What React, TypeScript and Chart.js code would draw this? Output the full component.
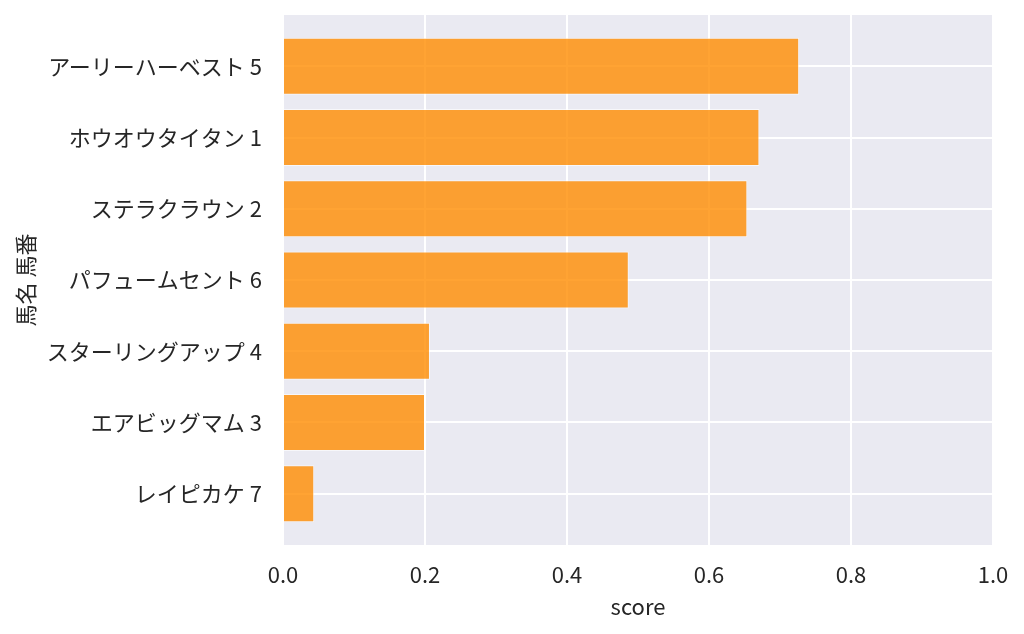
import { useEffect, useRef } from 'react';
import { Chart, registerables } from 'chart.js';

Chart.register(...registerables);

const horses = [
  'アーリーハーベスト 5',
  'ホウオウタイタン 1',
  'ステラクラウン 2',
  'パフュームセント 6',
  'スターリングアップ 4',
  'エアビッグマム 3',
  'レイピカケ 7',
];
const scores = [0.727, 0.671, 0.654, 0.487, 0.207, 0.2, 0.044];
const scoreTicks = [0, 0.2, 0.4, 0.6, 0.8, 1.0];

const FONT = '"Noto Sans CJK JP", "Noto Sans", sans-serif';
const TEXT = '#262626';

const plotBackground = {
  id: 'plotBackground',
  beforeDraw(chart: Chart) {
    const { ctx, chartArea } = chart;
    ctx.save();
    ctx.fillStyle = '#eaeaf2';
    ctx.fillRect(chartArea.left, chartArea.top, chartArea.width, chartArea.height);
    ctx.restore();
  },
};

export default function App() {
  const canvasRef = useRef<HTMLCanvasElement>(null);
  const chartRef = useRef<Chart | null>(null);

  useEffect(() => {
    document.body.style.margin = '0';
    if (!canvasRef.current) return;
    const ctx = canvasRef.current.getContext('2d');
    if (!ctx) return;

    chartRef.current = new Chart(ctx, {
      type: 'bar',
      data: {
        datasets: [{
          label: 'score',
          data: scores.map((s, i) => ({ x: s, y: i })),
          backgroundColor: 'rgba(255, 140, 0, 0.8)',
          borderColor: 'rgba(255, 255, 255, 0.6)',
          borderWidth: 1,
          barPercentage: 0.8,
          categoryPercentage: 1,
        }],
      },
      options: {
        indexAxis: 'y',
        animation: false,
        responsive: true,
        maintainAspectRatio: false,
        layout: { padding: { top: 15, right: 31, left: 0, bottom: 0 } },
        plugins: {
          legend: { display: false },
          tooltip: { enabled: false },
        },
        scales: {
          x: {
            type: 'linear',
            min: 0,
            max: 1,
            afterBuildTicks: (axis) => { axis.ticks = scoreTicks.map((v) => ({ value: v })); },
            afterFit: (axis) => {
              axis.height = 89;
              axis.paddingLeft = 0;
              axis.paddingRight = 0;
            },
            grid: { color: '#ffffff', lineWidth: 2, drawTicks: false },
            border: { display: false },
            ticks: {
              padding: 16,
              color: TEXT,
              font: { family: FONT, size: 22 },
              callback: (v) => Number(v).toFixed(1),
            },
            title: {
              display: true,
              text: 'score',
              color: TEXT,
              font: { family: FONT, size: 22 },
              padding: { top: 0, bottom: 14 },
            },
          },
          y: {
            type: 'linear',
            reverse: true,
            offset: false,
            min: -0.72,
            max: horses.length - 1 + 0.72,
            afterBuildTicks: (axis) => { axis.ticks = horses.map((_, i) => ({ value: i })); },
            afterFit: (axis) => {
              axis.width = 283;
              axis.paddingTop = 0;
              axis.paddingBottom = 0;
            },
            grid: { color: '#ffffff', lineWidth: 2, drawTicks: false, offset: false },
            border: { display: false },
            ticks: {
              padding: 21,
              color: TEXT,
              font: { family: FONT, size: 22 },
              callback: (v) => horses[Number(v)] ?? '',
            },
            title: {
              display: true,
              text: '馬名 馬番',
              color: TEXT,
              font: { family: FONT, size: 22 },
              padding: { top: 12, bottom: 0 },
            },
          },
        },
      },
      plugins: [plotBackground],
    });

    return () => { chartRef.current?.destroy(); chartRef.current = null; };
  }, []);

  return (
    <div style={{ position: 'relative', width: 1024, height: 634 }}>
      <canvas ref={canvasRef} />
    </div>
  );
}
